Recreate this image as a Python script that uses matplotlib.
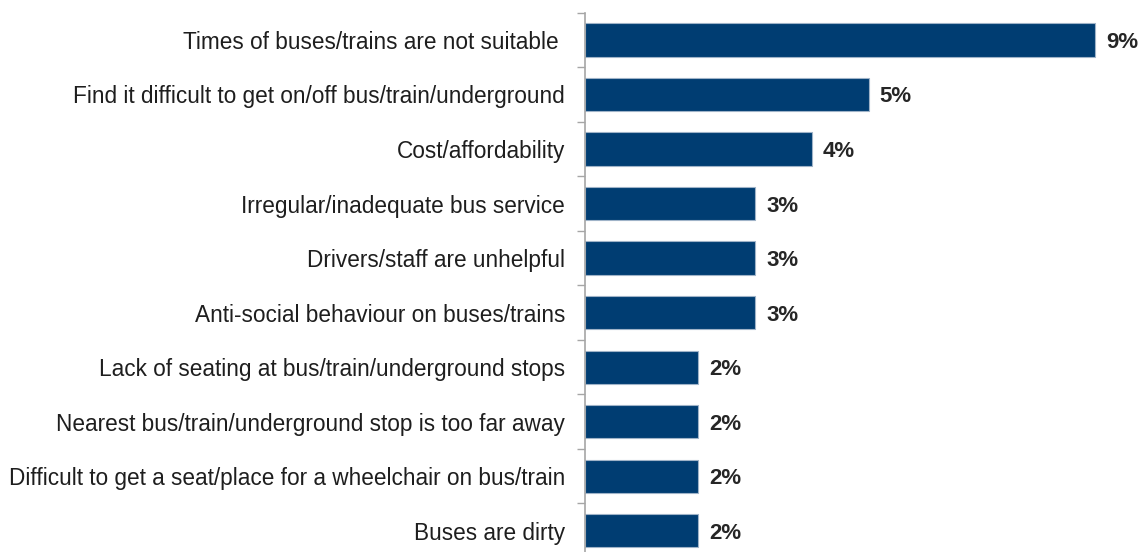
import matplotlib
matplotlib.use("Agg")
import matplotlib.pyplot as plt
import numpy as np

categories = [
    "Times of buses/trains are not suitable ",
    "Find it difficult to get on/off bus/train/underground",
    "Cost/affordability",
    "Irregular/inadequate bus service",
    "Drivers/staff are unhelpful",
    "Anti-social behaviour on buses/trains",
    "Lack of seating at bus/train/underground stops",
    "Nearest bus/train/underground stop is too far away",
    "Difficult to get a seat/place for a wheelchair on bus/train",
    "Buses are dirty",
]
values = [9, 5, 4, 3, 3, 3, 2, 2, 2, 2]
value_labels = ["9%", "5%", "4%", "3%", "3%", "3%", "2%", "2%", "2%", "2%"]

plt.rcParams["font.family"] = ["Liberation Sans", "DejaVu Sans"]

W, H = 1141, 552
fig = plt.figure(figsize=(W / 100, H / 100), dpi=100)
left = 585 / W
width = 556 / W
top_px, bottom_px = 12.7, 558.0
ax = fig.add_axes([left, (H - bottom_px) / H, width, (bottom_px - top_px) / H])

n = len(categories)
y = np.arange(n)
ax.barh(y, values, height=0.61, color="#003d72", edgecolor="#9fb3c8", linewidth=0.8)
ax.set_ylim(n - 0.5, -0.5)
ax.set_xlim(0, 556 / 56.7)

for yi, v, lab in zip(y, values, value_labels):
    ax.annotate(lab, (v, yi), xytext=(8, 0), textcoords="offset points",
                ha="left", va="center_baseline", fontsize=16, fontweight="bold",
                color="#262626")

ax.set_yticks(y)
ax.set_yticklabels(categories, fontsize=16.3, color="#1e1e1e")
ax.tick_params(axis="y", which="major", length=0, pad=14.4)
ax.set_yticks(np.arange(-0.5, n, 1), minor=True)
ax.tick_params(axis="y", which="minor", length=6, width=1, color="#a6a6a6", direction="out")
ax.set_xticks([])

for s in ["top", "right", "bottom"]:
    ax.spines[s].set_visible(False)
ax.spines["left"].set_color("#a6a6a6")
ax.spines["left"].set_linewidth(1.2)

fig.savefig("out.png", dpi=100)
